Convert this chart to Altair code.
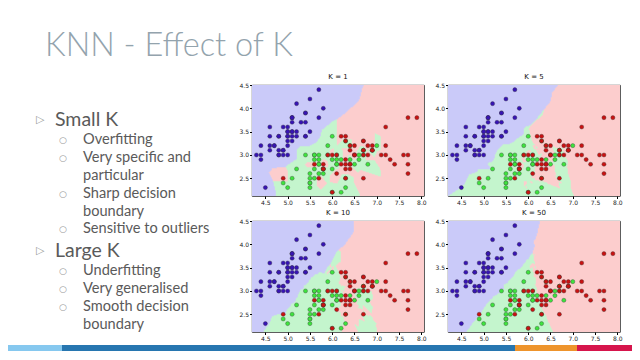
import altair as alt
import numpy as np
import pandas as pd

# ---------------- data (iris sepal length / width) ----------------
setosa_len = [5.1,4.9,4.7,4.6,5.0,5.4,4.6,5.0,4.4,4.9,5.4,4.8,4.8,4.3,5.8,5.7,5.4,5.1,5.7,5.1,
              5.4,5.1,4.6,5.1,4.8,5.0,5.0,5.2,5.2,4.7,4.8,5.4,5.2,5.5,4.9,5.0,5.5,4.9,4.4,5.1,
              5.0,4.5,4.4,5.0,5.1,4.8,5.1,4.6,5.3,5.0]
setosa_wid = [3.5,3.0,3.2,3.1,3.6,3.9,3.4,3.4,2.9,3.1,3.7,3.4,3.0,3.0,4.0,4.4,3.9,3.5,3.8,3.8,
              3.4,3.7,3.6,3.3,3.4,3.0,3.4,3.5,3.4,3.2,3.1,3.4,4.1,4.2,3.1,3.2,3.5,3.6,3.0,3.4,
              3.5,2.3,3.2,3.5,3.8,3.0,3.8,3.2,3.7,3.3]
versicolor_len = [7.0,6.4,6.9,5.5,6.5,5.7,6.3,4.9,6.6,5.2,5.0,5.9,6.0,6.1,5.6,6.7,5.6,5.8,6.2,5.6,
                  5.9,6.1,6.3,6.1,6.4,6.6,6.8,6.7,6.0,5.7,5.5,5.5,5.8,6.0,5.4,6.0,6.7,6.3,5.6,5.5,
                  5.5,6.1,5.8,5.0,5.6,5.7,5.7,6.2,5.1,5.7]
versicolor_wid = [3.2,3.2,3.1,2.3,2.8,2.8,3.3,2.4,2.9,2.7,2.0,3.0,2.2,2.9,2.9,3.1,3.0,2.7,2.2,2.5,
                  3.2,2.8,2.5,2.8,2.9,3.0,2.8,3.0,2.9,2.6,2.4,2.4,2.7,2.7,3.0,3.4,3.1,2.3,3.0,2.5,
                  2.6,3.0,2.6,2.3,2.7,3.0,2.9,2.9,2.5,2.8]
virginica_len = [6.3,5.8,7.1,6.3,6.5,7.6,4.9,7.3,6.7,7.2,6.5,6.4,6.8,5.7,5.8,6.4,6.5,7.7,7.7,6.0,
                 6.9,5.6,7.7,6.3,6.7,7.2,6.2,6.1,6.4,7.2,7.4,7.9,6.4,6.3,6.1,7.7,6.3,6.4,6.0,6.9,
                 6.7,6.9,5.8,6.8,6.7,6.7,6.3,6.5,6.2,5.9]
virginica_wid = [3.3,2.7,3.0,2.9,3.0,3.0,2.5,2.9,2.5,3.6,3.2,2.7,3.0,2.5,2.8,3.2,3.0,3.8,2.6,2.2,
                 3.2,2.8,2.8,2.7,3.3,3.2,2.8,3.0,2.8,3.0,2.8,3.8,2.8,2.8,2.6,3.0,3.4,3.1,3.0,3.1,
                 3.1,3.1,2.7,3.2,3.3,3.0,2.5,3.0,3.4,3.0]
classes = ["setosa", "versicolor", "virginica"]
k_values = [1, 5, 10, 50]
x_ticks = [4.5, 5.0, 5.5, 6.0, 6.5, 7.0, 7.5, 8.0]
y_ticks = [2.5, 3.0, 3.5, 4.0, 4.5]

title_text = "KNN - Effect of K"
items = [
    (1, ["Small K"]),
    (2, ["Overfitting"]),
    (2, ["Very specific and", "particular"]),
    (2, ["Sharp decision", "boundary"]),
    (2, ["Sensitive to outliers"]),
    (1, ["Large K"]),
    (2, ["Underfitting"]),
    (2, ["Very generalised"]),
    (2, ["Smooth decision", "boundary"]),
]

# ---------------- layout / style ----------------
line_y = [35, 55, 73, 91, 109, 127, 144, 166, 186, 204, 222, 240]
region_colors = ["#cacaf9", "#c4f5cd", "#fccdcd"]
point_colors = ["#3714b4", "#3ee23e", "#c81212"]
bar_segments = [(0, 54, "#86c8ef"), (54, 507, "#2776b0"), (507, 569, "#ee942c"), (569, 624, "#d6154c")]
x_lo, x_hi = 4.2, 8.06
y_lo, y_hi = 2.12, 4.5
PW, PH = 172, 111

X = np.array(list(zip(setosa_len + versicolor_len + virginica_len,
                      setosa_wid + versicolor_wid + virginica_wid)))
Y = np.array([0] * len(setosa_len) + [1] * len(versicolor_len) + [2] * len(virginica_len))

points_df = pd.DataFrame({"sl": X[:, 0], "sw": X[:, 1], "cls": [classes[c] for c in Y]})

# classification grid: one cell per plot pixel
nx, ny = PW, PH
xe = np.linspace(x_lo, x_hi, nx + 1)
ye = np.linspace(y_lo, y_hi, ny + 1)
xc = (xe[:-1] + xe[1:]) / 2
yc = (ye[:-1] + ye[1:]) / 2
gx, gy = np.meshgrid(xc, yc)
gxf, gyf = gx.ravel(), gy.ravel()
dist = (gxf[:, None] - X[None, :, 0]) ** 2 + (gyf[:, None] - X[None, :, 1]) ** 2
order = np.argsort(dist, axis=1, kind="stable")


def regions(k):
    nn = Y[order[:, :k]]
    votes = np.stack([(nn == c).sum(axis=1) for c in range(3)], axis=1)
    pred = votes.argmax(axis=1).reshape(ny, nx)
    rows = []
    for j in range(ny):
        r = pred[j]
        s = 0
        for i in range(1, nx + 1):
            if i == nx or r[i] != r[s]:
                rows.append({"x": xe[s], "x2": xe[i], "y": ye[j], "y2": ye[j + 1],
                             "cls": classes[r[s]], "k": k})
                s = i
    return pd.DataFrame(rows)


xscale = alt.Scale(domain=[x_lo, x_hi], nice=False, zero=False)
yscale = alt.Scale(domain=[y_lo, y_hi], nice=False, zero=False)
axis_style = dict(format=".1f", title=None, grid=False, domain=False, labelFontSize=6, tickSize=2.5,
                  labelPadding=1, tickColor="#000", labelColor="#222", labelFont="DejaVu Sans")
xaxis = alt.Axis(values=x_ticks, **axis_style)
yaxis = alt.Axis(values=y_ticks, **axis_style)
rscale = alt.Scale(domain=classes, range=region_colors)
pscale = alt.Scale(domain=classes, range=point_colors)


def panel(k):
    reg = alt.Chart(regions(k)).mark_rect(strokeWidth=0.5, clip=True).encode(
        x=alt.X("x:Q", scale=xscale, axis=xaxis), x2="x2:Q",
        y=alt.Y("y:Q", scale=yscale, axis=yaxis), y2="y2:Q",
        fill=alt.Fill("cls:N", scale=rscale, legend=None),
        stroke=alt.Stroke("cls:N", scale=rscale, legend=None),
    )
    pts = alt.Chart(points_df).mark_circle(size=17, opacity=1, stroke="#333", strokeWidth=0.35, clip=True).encode(
        x=alt.X("sl:Q", scale=xscale, axis=xaxis),
        y=alt.Y("sw:Q", scale=yscale, axis=yaxis),
        fill=alt.Fill("cls:N", scale=pscale, legend=None),
    )
    return alt.layer(reg, pts).resolve_scale(fill="independent").properties(
        width=PW, height=PH,
        title=alt.Title(f"K = {k}", fontSize=7, fontWeight="normal", font="DejaVu Sans",
                        color="#111", offset=2),
        view=alt.ViewBackground(stroke="#000", strokeWidth=0.8),
    )


# ---------------- header ----------------
header = alt.Chart(pd.DataFrame({"t": [title_text]})).mark_text(
    font="Lato", fontSize=32.5, fontWeight=300, color="#93a3ad", align="left", baseline="alphabetic"
).encode(x=alt.value(37), y=alt.value(48), text="t:N").properties(width=616, height=77)

# ---------------- left text ----------------
rows = []
li = 0
for level, lines in items:
    for n, line in enumerate(lines):
        rows.append({"text": line, "level": level, "first": n == 0, "y": line_y[li]})
        li += 1
tdf = pd.DataFrame(rows)
l1 = tdf[tdf.level == 1]
l2 = tdf[tdf.level == 2]
b1 = l1[l1["first"]]
b2 = l2[l2["first"]]

ypix = alt.Y("y:Q", scale=None, axis=None)
t1 = alt.Chart(l1).mark_text(font="Lato", fontSize=19.5, color="#5a5a5a", align="left", baseline="middle").encode(
    x=alt.value(47), y=ypix, text="text:N")
t2 = alt.Chart(l2).mark_text(font="Lato", fontSize=14.6, color="#5a5a5a", align="left", baseline="middle").encode(
    x=alt.value(75), y=ypix, text="text:N")
g1 = alt.Chart(b1).mark_text(font="DejaVu Sans", fontSize=11, color="#9a9a9a", align="left", baseline="middle",
                             text="\u25b7").encode(x=alt.value(28), y=ypix)
g2 = alt.Chart(b2).mark_text(font="DejaVu Sans", fontSize=9, color="#9a9a9a", align="left", baseline="middle",
                             text="\u25cb").encode(x=alt.value(51), y=ypix)
bar_df = pd.DataFrame({"x": [s[0] for s in bar_segments], "x2": [s[1] for s in bar_segments],
                       "c": [s[2] for s in bar_segments]})
bar = alt.Chart(bar_df).mark_rect().encode(
    x=alt.X("x:Q", scale=None, axis=None), x2="x2:Q",
    y=alt.value(260), y2=alt.value(266), fill=alt.Fill("c:N", scale=None, legend=None))
left = alt.layer(t1, t2, g1, g2, bar).properties(width=244, height=267)

# ---------------- assemble ----------------
grid = alt.concat(*[panel(k) for k in k_values], columns=2,
                  spacing=alt.RowColnumber(row=25, column=24), bounds="flush")
body = alt.hconcat(left, grid, spacing=0, bounds="flush")
chart = alt.vconcat(header, body, spacing=0, bounds="flush", padding=0,
                    background="#ffffff").configure_view(stroke=None)

chart.save("out.html", embed_options={"renderer": "svg", "actions": False})
